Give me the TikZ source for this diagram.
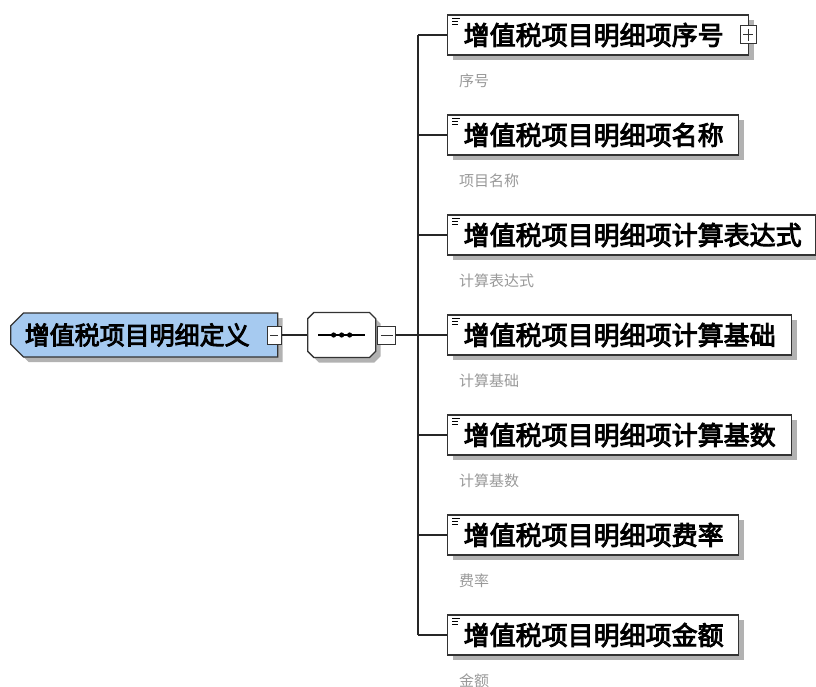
\documentclass[tikz,border=0pt]{standalone}
\usepackage{fontspec}
\usepackage{tikz}
\usetikzlibrary{shapes.misc, shadows, positioning, calc}
\newfontfamily\cjk{Noto Sans CJK SC}
\newfontfamily\cjkbold[FakeBold=3.5]{Noto Sans CJK SC}
\definecolor{rootblue}{RGB}{166,202,240}

\begin{document}
\begin{tikzpicture}[
    x=1pt, y=-1pt,
    boxshadow/.style={general shadow={shadow xshift=5pt, shadow yshift=-5pt, fill=black!30}},
    rootbox/.style={chamfered rectangle, chamfered rectangle corners={north west, south west},
        chamfered rectangle xsep=10pt, draw=black!80, line width=1.3pt, fill=rootblue, boxshadow,
        minimum height=44pt, minimum width=259pt, inner xsep=4pt, font=\cjkbold\fontsize{25}{25}\selectfont},
    seqbox/.style={chamfered rectangle, chamfered rectangle xsep=10pt, draw=black!80, line width=1.3pt,
        fill=white, boxshadow, minimum width=68pt, minimum height=45pt},
    element/.style={rectangle, draw=black!80, line width=1.3pt, fill=white, boxshadow, minimum height=40pt,
        inner xsep=0pt, inner ysep=0pt, align=left, font=\cjkbold\fontsize{26}{26}\selectfont},
    note/.style={font=\cjk\fontsize{15}{15}\selectfont, text=black!40, anchor=west, inner sep=0pt},
    btn/.style={rectangle, draw=black!80, line width=1pt, fill=white, inner sep=0pt, minimum width=16pt, minimum height=16pt},
    minusbtn/.style={btn, path picture={\draw[line width=1pt] ([xshift=3pt]path picture bounding box.west) -- ([xshift=-3pt]path picture bounding box.east);}},
    plusbtn/.style={btn, path picture={\draw[line width=1pt] ([xshift=3pt]path picture bounding box.west) -- ([xshift=-3pt]path picture bounding box.east)
        ([yshift=3pt]path picture bounding box.south) -- ([yshift=-3pt]path picture bounding box.north);}},
    wire/.style={draw=black!85, line width=1.3pt}
]
\useasboundingbox (0,0) rectangle (816,687);

% root element and its sequence
\node[rootbox, anchor=west] (root) at (10,335) {增值税项目明细定义\hspace*{14pt}};
\node[minusbtn, minimum width=14pt, minimum height=18pt] (rootbtn) at ([xshift=-4pt]root.east) {};
\node[seqbox, anchor=west] (seq) at (307,335) {};
\node[minusbtn, anchor=west, minimum width=18pt, minimum height=18pt] (seqbtn) at ([xshift=1pt]seq.east) {};
\coordinate (bus) at (418,335);

\draw[wire] (rootbtn.east) -- (seq.west);
\draw[wire] (seqbtn.east) -- (bus);
\draw[line width=1.3pt] ([xshift=11pt]seq.west) -- ([xshift=-11pt]seq.east);
\foreach \dx in {-8,0,8}
    \fill ([xshift=\dx pt]seq.center) circle (2.6pt);

% child elements
\foreach \i/\txt/\w/\lbl in {
    1/增值税项目明细项序号/301/序号,
    2/增值税项目明细项名称/291/项目名称,
    3/增值税项目明细项计算表达式/368/计算表达式,
    4/增值税项目明细项计算基础/344/计算基础,
    5/增值税项目明细项计算基数/344/计算基数,
    6/增值税项目明细项费率/291/费率,
    7/增值税项目明细项金额/291/金额}{
    \pgfmathsetmacro{\yc}{35+100*(\i-1)}
    \node[element, anchor=west, text width=\w pt] (c\i) at (447,\yc) {\hspace*{16pt}\txt};
    \draw[thick] ([xshift=5pt,yshift=-4pt]c\i.north west) -- ++(8,0)
                 ([xshift=5pt,yshift=-7pt]c\i.north west) -- ++(6,0)
                 ([xshift=5pt,yshift=-10pt]c\i.north west) -- ++(6,0);
    \node[note] (n\i) at ([xshift=12pt,yshift=-25pt]c\i.south west) {\lbl};
    \draw[wire] (bus |- c\i.west) -- (c\i.west);
}
\draw[wire] (bus |- c1.west) -- (bus |- c7.west);
\node[plusbtn, minimum height=18pt] (c1btn) at ([xshift=-1pt]c1.east) {};

\end{tikzpicture}
\end{document}
